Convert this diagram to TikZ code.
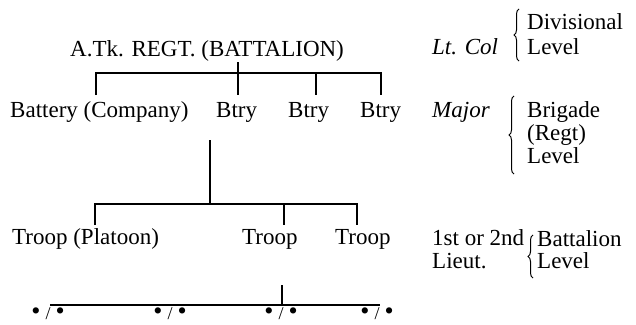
\documentclass[tikz,border=0pt]{standalone}
\usepackage{fontspec}
\setmainfont{Liberation Serif}
\usetikzlibrary{decorations.pathreplacing}
\newcommand{\bigbul}{{\fontsize{26}{26}\selectfont •}}
\newcommand{\dotpair}{\bigbul\hspace{5pt}/\hspace{5pt}\bigbul}
\begin{document}
\begin{tikzpicture}[x=1pt,y=-1pt,
  lbl/.style={anchor=base west,inner sep=0pt,font=\fontsize{23}{27}\selectfont},
  ilbl/.style={lbl,font=\fontsize{23}{27}\selectfont\itshape},
  dotlbl/.style={anchor=base,inner sep=0pt,font=\fontsize{18}{22}\selectfont},
  conn/.style={line width=1.4pt},
  brc/.style={decorate,decoration={brace,amplitude=5pt},line width=1pt}]
\useasboundingbox (0,0) rectangle (636,324);
% level 1
\node[lbl] (top) at (70,56) {A.Tk. REGT. (BATTALION)};
\node[ilbl] (ltcol) at (432,54) {Lt. Col};
\node[lbl] (div) at (527,29) {Divisional};
\node[lbl] (lev1) at (527,54) {Level};
% level 2
\node[lbl] (bat) at (10,117) {Battery (Company)};
\node[lbl] (bt1) at (216,117) {Btry};
\node[lbl] (bt2) at (288,117) {Btry};
\node[lbl] (bt3) at (360,117) {Btry};
\node[ilbl] (major) at (432,117) {Major};
\node[lbl] (brig) at (527,117) {Brigade};
\node[lbl] (regt) at (527,140) {(Regt)};
\node[lbl] (lev2) at (527,163) {Level};
% level 3
\node[lbl] (tp) at (12,244) {Troop (Platoon)};
\node[lbl] (tr1) at (242,244) {Troop};
\node[lbl] (tr2) at (335,244) {Troop};
\node[lbl] (lt1) at (432,245) {1st or 2nd};
\node[lbl] (lt2) at (432,268) {Lieut.};
\node[lbl] (batl) at (537,246) {Battalion};
\node[lbl] (lev3) at (537,268) {Level};
% level 4
\node[dotlbl] (d1) at (48,319) {\dotpair};
\node[dotlbl] (d2) at (170,319) {\dotpair};
\node[dotlbl] (d3) at (281,319) {\dotpair};
\node[dotlbl] (d4) at (377,319) {\dotpair};
% coordinates
\coordinate (topd) at (238,62);
\coordinate (j1) at (238,73);
\coordinate (bar1l) at (96,73);
\coordinate (bar1r) at (381,73);
\coordinate (e1) at (96,95);
\coordinate (e2) at (238,95);
\coordinate (e3) at (316,95);
\coordinate (e4) at (381,95);
\coordinate (s2) at (210,140);
\coordinate (j2) at (210,204);
\coordinate (bar2l) at (95,204);
\coordinate (bar2r) at (357,204);
\coordinate (f1) at (95,225);
\coordinate (f2) at (284,225);
\coordinate (f3) at (357,225);
\coordinate (s3) at (282,285);
\coordinate (j3) at (282,305);
\coordinate (bar3l) at (50,305);
\coordinate (bar3r) at (380,305);
% connectors
\draw[conn] (topd) -- (j1);
\draw[conn] (e1) -- (bar1l) -- (bar1r) -- (e4);
\draw[conn] (j1) -- (e2);
\draw[conn] (e3 |- bar1l) -- (e3);
\draw[conn] (s2) -- (j2);
\draw[conn] (f1) -- (bar2l) -- (bar2r) -- (f3);
\draw[conn] (f2 |- bar2l) -- (f2);
\draw[conn] (s3) -- (j3);
\draw[conn] (bar3l) -- (bar3r);
% braces
\draw[brc] (519,61) -- (519,9);
\draw[brc] (514,174) -- (514,96);
\draw[brc] (533,278) -- (533,235);
\end{tikzpicture}
\end{document}
